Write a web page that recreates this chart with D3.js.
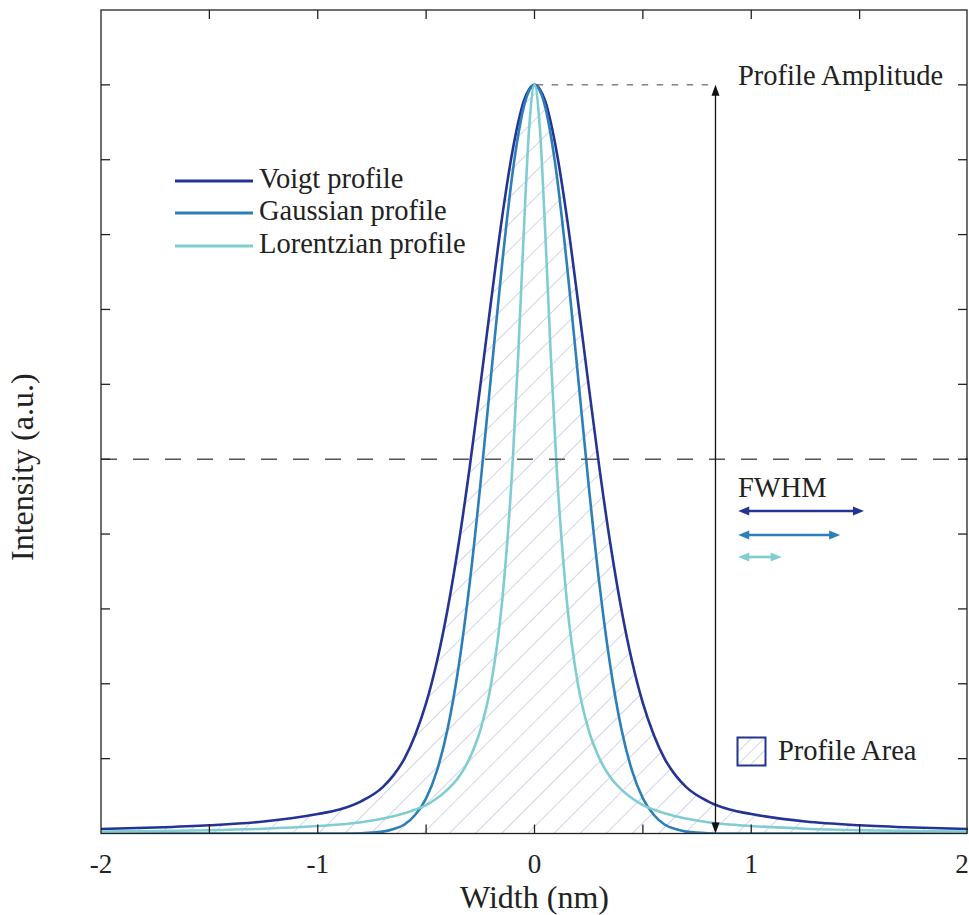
<!DOCTYPE html>
<html lang="en">
<head>
    <meta charset="UTF-8">
    <title>Line Profiles</title>
    <script src="https://d3js.org/d3.v7.min.js"></script>
    <style>
        body { margin: 0; background: #fff; }
        svg text { font-family: "Liberation Serif", "Times New Roman", serif; fill: #222; }
    </style>
</head>
<body>
    <svg id="chart"></svg>

    <script>
        // sampled profile values (nm, normalised intensity)
        const widths = [-2, -1.75, -1.5, -1.25, -1, -0.9, -0.8, -0.7, -0.65, -0.6, -0.55, -0.5, -0.45, -0.4, -0.35, -0.3, -0.25, -0.2, -0.15, -0.1, -0.075, -0.05, -0.025,
            0, 0.025, 0.05, 0.075, 0.1, 0.15, 0.2, 0.25, 0.3, 0.35, 0.4, 0.45, 0.5, 0.55, 0.6, 0.65, 0.7, 0.8, 0.9, 1, 1.25, 1.5, 1.75, 2];
        const voigt = [0.006, 0.008, 0.011, 0.016, 0.026, 0.032, 0.043, 0.062, 0.078, 0.100, 0.132, 0.174, 0.230, 0.301, 0.387, 0.487, 0.598, 0.712, 0.822, 0.914, 0.950, 0.978, 0.994,
            1, 0.994, 0.978, 0.950, 0.914, 0.822, 0.712, 0.598, 0.487, 0.387, 0.301, 0.230, 0.174, 0.132, 0.100, 0.078, 0.062, 0.043, 0.032, 0.026, 0.016, 0.011, 0.008, 0.006];
        const gaussian = [0, 0, 0, 0, 0, 0, 0.0004, 0.0025, 0.006, 0.012, 0.025, 0.047, 0.084, 0.141, 0.223, 0.332, 0.465, 0.613, 0.759, 0.885, 0.933, 0.970, 0.992,
            1, 0.992, 0.970, 0.933, 0.885, 0.759, 0.613, 0.465, 0.332, 0.223, 0.141, 0.084, 0.047, 0.025, 0.012, 0.006, 0.0025, 0.0004, 0, 0, 0, 0, 0, 0];
        const lorentzian = [0.0025, 0.0033, 0.0044, 0.0064, 0.010, 0.012, 0.015, 0.020, 0.023, 0.027, 0.032, 0.038, 0.047, 0.059, 0.075, 0.100, 0.138, 0.200, 0.308, 0.500, 0.640, 0.800, 0.941,
            1, 0.941, 0.800, 0.640, 0.500, 0.308, 0.200, 0.138, 0.100, 0.075, 0.059, 0.047, 0.038, 0.032, 0.027, 0.023, 0.020, 0.015, 0.012, 0.010, 0.0064, 0.0044, 0.0033, 0.0025];

        const profileNames = ["Voigt profile", "Gaussian profile", "Lorentzian profile"];
        const profileColors = ["#253494", "#2c7fb8", "#7fcdd1"];
        const fwhm = [0.58, 0.47, 0.2];
        const xTickLabels = ["-2", "-1", "0", "1", "2"];
        const amplitudeAt = 0.835;
        const fwhmStart = 0.94;

        const W = 969, H = 915;
        const margin = { left: 101, right: 1, top: 10, bottom: 81.5 };
        const serif = "'Liberation Serif', 'Times New Roman', serif";

        const svg = d3.select("#chart").attr("width", W).attr("height", H)
            .attr("font-family", serif);

        const x = d3.scaleLinear().domain([-2, 2]).range([margin.left, W - margin.right]);
        const y = d3.scaleLinear().domain([0, 1.1]).range([H - margin.bottom, margin.top]);

        const defs = svg.append("defs");
        defs.append("clipPath").attr("id", "plotClip")
            .append("rect")
            .attr("x", x(-2)).attr("y", y(1.1))
            .attr("width", x(2) - x(-2)).attr("height", y(0) - y(1.1));

        function addHatch(id, size) {
            const p = defs.append("pattern")
                .attr("id", id)
                .attr("patternUnits", "userSpaceOnUse")
                .attr("width", size).attr("height", size)
                .attr("patternTransform", "rotate(45)");
            p.append("line")
                .attr("x1", 0).attr("y1", 0).attr("x2", 0).attr("y2", size)
                .attr("stroke", "#c6cae3").attr("stroke-width", 1.6);
        }
        addHatch("hatch", 18.5);
        addHatch("hatchSmall", 9);

        const pts = ys => widths.map((w, i) => [w, ys[i]]);
        const plot = svg.append("g").attr("clip-path", "url(#plotClip)");

        // profile area
        plot.append("path")
            .datum(pts(voigt))
            .attr("fill", "url(#hatch)")
            .attr("d", d3.area().x(d => x(d[0])).y0(y(0)).y1(d => y(d[1])).curve(d3.curveMonotoneX));

        // half maximum line
        svg.append("line")
            .attr("x1", x(-2)).attr("x2", x(2))
            .attr("y1", y(0.5)).attr("y2", y(0.5))
            .attr("stroke", "#555").attr("stroke-width", 1.5)
            .attr("stroke-dasharray", "16,16");

        // amplitude guide
        svg.append("line")
            .attr("x1", x(0.01)).attr("x2", x(amplitudeAt))
            .attr("y1", y(1)).attr("y2", y(1))
            .attr("stroke", "#444").attr("stroke-width", 1)
            .attr("stroke-dasharray", "6.5,8.5");

        const line = d3.line().x(d => x(d[0])).y(d => y(d[1])).curve(d3.curveMonotoneX);
        [voigt, gaussian, lorentzian].forEach((s, i) => {
            plot.append("path")
                .datum(pts(s))
                .attr("fill", "none")
                .attr("stroke", profileColors[i])
                .attr("stroke-width", 2.6)
                .attr("d", line);
        });

        // arrows
        function arrowHead(px, py, dir, color, len, half) {
            const [dx, dy] = dir;
            const bx = px - dx * len, by = py - dy * len;
            svg.append("path")
                .attr("d", `M${px},${py}L${bx - dy * half},${by + dx * half}L${bx + dy * half},${by - dx * half}Z`)
                .attr("fill", color);
        }

        const ax = x(amplitudeAt);
        svg.append("line")
            .attr("x1", ax).attr("x2", ax)
            .attr("y1", y(1) + 6).attr("y2", y(0) - 6)
            .attr("stroke", "#111").attr("stroke-width", 1.3);
        arrowHead(ax, y(1), [0, -1], "#111", 11, 4);
        arrowHead(ax, y(0), [0, 1], "#111", 11, 4);

        const fwhmRows = [511, 535, 557];
        fwhm.forEach((f, i) => {
            const x1 = x(fwhmStart), x2 = x(fwhmStart + f), yy = fwhmRows[i];
            svg.append("line")
                .attr("x1", x1 + 6).attr("x2", x2 - 6)
                .attr("y1", yy).attr("y2", yy)
                .attr("stroke", profileColors[i]).attr("stroke-width", 2.6);
            arrowHead(x1, yy, [-1, 0], profileColors[i], 11, 4.5);
            arrowHead(x2, yy, [1, 0], profileColors[i], 11, 4.5);
        });

        const textSize = 28.5;
        svg.append("text").attr("x", 738).attr("y", 85).attr("font-size", textSize).text("Profile Amplitude");
        svg.append("text").attr("x", 738).attr("y", 497).attr("font-size", textSize).text("FWHM");

        // profile area key
        svg.append("rect")
            .attr("x", 737.5).attr("y", 737.5).attr("width", 28).attr("height", 28)
            .attr("fill", "url(#hatchSmall)")
            .attr("stroke", "#253494").attr("stroke-width", 2);
        svg.append("text").attr("x", 778).attr("y", 760).attr("font-size", textSize).text("Profile Area");

        // legend
        const legendRows = [181, 213, 246];
        profileNames.forEach((n, i) => {
            svg.append("line")
                .attr("x1", 175).attr("x2", 253)
                .attr("y1", legendRows[i]).attr("y2", legendRows[i])
                .attr("stroke", profileColors[i]).attr("stroke-width", 3);
            svg.append("text")
                .attr("x", 259).attr("y", legendRows[i] + 6.5)
                .attr("font-size", textSize)
                .text(n);
        });

        // axes frame and ticks
        const frame = svg.append("g").attr("stroke", "#222").attr("stroke-width", 1.3);
        frame.append("rect")
            .attr("x", x(-2)).attr("y", y(1.1))
            .attr("width", x(2) - x(-2) - 1).attr("height", y(0) - y(1.1))
            .attr("fill", "none");

        const xt = d3.range(-1.5, 2, 0.5);
        xt.forEach(t => {
            frame.append("line").attr("x1", x(t)).attr("x2", x(t)).attr("y1", y(0)).attr("y2", y(0) - 9);
            frame.append("line").attr("x1", x(t)).attr("x2", x(t)).attr("y1", y(1.1)).attr("y2", y(1.1) + 9);
        });
        const yt = d3.range(0.1, 1.05, 0.1);
        yt.forEach(t => {
            frame.append("line").attr("x1", x(-2)).attr("x2", x(-2) + 9).attr("y1", y(t)).attr("y2", y(t));
            frame.append("line").attr("x1", x(2) - 1).attr("x2", x(2) - 10).attr("y1", y(t)).attr("y2", y(t));
        });

        xTickLabels.forEach((l, i) => {
            svg.append("text")
                .attr("x", i === 4 ? x(2) - 6 : x(-2 + i)).attr("y", 873)
                .attr("text-anchor", "middle")
                .attr("font-size", 27)
                .text(l);
        });

        svg.append("text")
            .attr("x", x(0)).attr("y", 908)
            .attr("text-anchor", "middle")
            .attr("font-size", 32)
            .text("Width (nm)");

        svg.append("text")
            .attr("transform", `translate(33, ${y(0.5) + 8}) rotate(-90)`)
            .attr("text-anchor", "middle")
            .attr("font-size", 32)
            .text("Intensity (a.u.)");
    </script>
</body>
</html>
